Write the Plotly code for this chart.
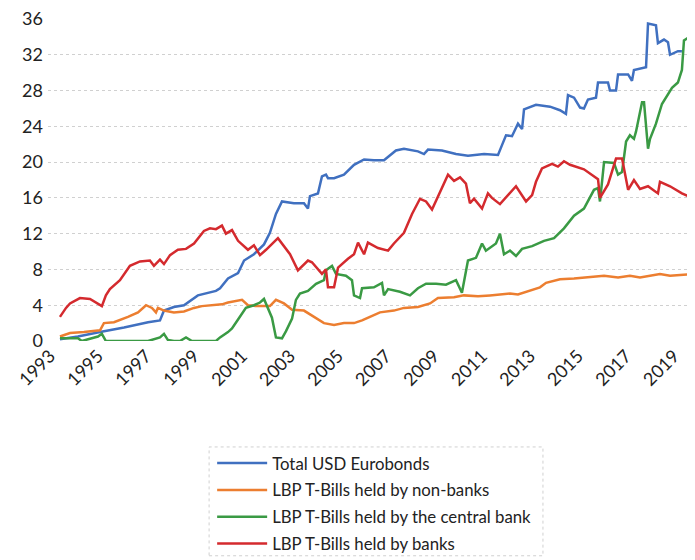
import plotly.graph_objects as go

# ---- data ----
eurobonds_dates = ["1993-06","1994-03","1995-02","1996-02","1997-02","1997-08","1997-10","1998-03","1998-08",
    "1999-03","1999-12","2000-02","2000-06","2000-11","2001-02","2001-07","2001-12","2002-03","2002-06","2002-09",
    "2003-03","2003-08","2003-10","2003-11","2004-03","2004-05","2004-07","2004-08","2004-11","2005-04","2005-09",
    "2006-02","2006-07","2006-12","2007-06","2007-10","2008-05","2008-08","2008-10","2009-05","2009-12","2010-06",
    "2011-02","2011-09","2011-11","2012-01","2012-04","2012-07","2012-09","2012-10","2013-04","2013-11","2014-04",
    "2014-07","2014-08","2014-11","2015-02","2015-04","2015-06","2015-10","2015-11","2016-04","2016-05","2016-08",
    "2016-09","2017-02","2017-04","2017-05","2017-11","2017-12","2018-04","2018-05","2018-08","2018-10","2018-11",
    "2019-03","2019-05"]
eurobonds_vals = [0.2,0.5,1.0,1.5,2.1,2.3,3.4,3.8,4.0,
    5.1,5.6,5.9,7.0,7.6,9.0,9.7,10.8,12.1,14.2,15.6,
    15.4,15.4,14.8,16.2,16.5,18.4,18.6,18.2,18.2,18.6,19.7,
    20.3,20.2,20.2,21.3,21.5,21.2,20.9,21.4,21.3,20.9,20.7,
    20.9,20.8,21.9,23.0,22.9,24.3,23.7,25.9,26.4,26.2,25.8,
    25.4,27.5,27.2,26.1,26.0,27.0,27.2,28.9,28.9,28.0,28.0,
    29.8,29.8,29.1,30.3,30.6,35.5,35.3,33.3,33.7,33.4,32.0,
    32.4,32.4]

nonbanks_dates = ["1993-06","1993-11","1994-06","1995-02","1995-04","1995-09","1996-04","1996-09","1997-01",
    "1997-04","1997-06","1997-07","1997-10","1998-03","1998-08","1999-01","1999-05","1999-10","2000-03","2000-06",
    "2001-01","2001-04","2001-08","2002-03","2002-06","2002-10","2003-02","2003-08","2004-01","2004-06","2004-11",
    "2005-04","2005-09","2006-01","2006-05","2006-10","2007-05","2007-10","2008-05","2008-11","2009-03","2009-11",
    "2010-04","2010-11","2011-05","2012-03","2012-07","2012-12","2013-06","2013-09","2014-04","2014-11","2015-09",
    "2016-02","2016-09","2017-03","2017-08","2018-01","2018-06","2018-11","2019-06","2019-11"]
nonbanks_vals = [0.5,0.9,1.0,1.2,2.0,2.1,2.7,3.2,4.0,
    3.7,3.2,3.7,3.4,3.2,3.3,3.7,3.9,4.0,4.1,4.3,
    4.6,4.0,3.9,3.9,4.6,4.2,3.5,3.4,2.7,2.0,1.8,
    2.0,2.0,2.3,2.7,3.2,3.4,3.7,3.8,4.2,4.8,4.9,
    5.1,5.0,5.1,5.3,5.2,5.6,6.0,6.5,6.9,7.0,7.2,
    7.3,7.1,7.3,7.1,7.3,7.5,7.3,7.4,7.5]

central_dates = ["1993-06","1994-03","1994-05","1995-01","1995-03","1995-05","1997-02","1997-08","1997-10",
    "1997-12","1998-03","1998-06","1998-09","1998-12","1999-12","2000-02","2000-06","2000-08","2000-11","2001-03",
    "2001-07","2001-10","2001-12","2002-02","2002-04","2002-06","2002-09","2002-11","2003-02","2003-04","2003-06",
    "2003-10","2004-02","2004-06","2004-07","2004-10","2004-12","2005-05","2005-08","2005-09","2005-12","2006-01",
    "2006-07","2006-11","2006-12","2007-02","2007-08","2008-01","2008-05","2008-09","2009-02","2009-07","2009-12",
    "2010-03","2010-06","2010-10","2011-01","2011-03","2011-08","2011-10","2011-12","2012-03","2012-06","2012-09",
    "2013-02","2013-08","2014-01","2014-06","2014-11","2015-04","2015-09","2015-11","2015-12","2016-01","2016-02",
    "2016-07","2016-09","2016-11","2017-01","2017-03","2017-05","2017-06","2017-09","2017-10","2017-12","2018-01",
    "2018-04","2018-07","2018-10","2018-12","2019-03","2019-05","2019-06","2019-08","2019-11"]
central_vals = [0.3,0.3,0.0,0.5,0.8,0.0,0.0,0.4,0.8,
    0.1,0.0,0.0,0.4,0.0,0.0,0.4,1.0,1.4,2.4,3.7,
    4.0,4.3,4.7,3.7,2.6,0.4,0.3,1.1,2.5,4.6,5.3,
    5.6,6.4,6.8,7.9,8.4,7.5,7.3,6.8,5.1,4.8,5.9,
    6.0,6.5,5.1,5.8,5.5,5.1,5.9,6.4,6.4,6.3,6.8,
    5.4,9.0,9.3,10.9,10.1,10.9,12.0,9.7,10.1,9.5,10.3,
    10.6,11.2,11.5,12.6,14.0,14.8,16.9,17.1,15.6,17.8,20.0,
    19.9,18.6,18.9,22.3,23.0,22.6,23.4,26.7,26.7,21.5,22.6,
    24.3,26.5,27.5,28.3,28.9,30.3,33.6,33.9,34.7]

banks_dates = ["1993-06","1993-09","1993-11","1994-04","1994-09","1995-03","1995-05","1995-07","1995-12",
    "1996-05","1996-10","1997-03","1997-05","1997-08","1997-10","1998-01","1998-05","1998-09","1999-01","1999-06",
    "1999-09","1999-12","2000-03","2000-05","2000-08","2000-11","2001-04","2001-07","2001-10","2002-01","2002-07",
    "2002-09","2003-01","2003-05","2003-10","2003-12","2004-05","2004-07","2004-08","2004-11","2005-01","2005-06",
    "2005-09","2005-11","2006-02","2006-04","2006-09","2007-02","2007-05","2007-10","2008-02","2008-06","2008-09",
    "2008-12","2009-04","2009-08","2009-11","2010-02","2010-05","2010-07","2010-09","2010-11","2011-01","2011-04",
    "2011-06","2011-10","2012-06","2012-11","2013-02","2013-04","2013-07","2013-12","2014-03","2014-06","2014-09",
    "2015-04","2015-07","2015-11","2015-12","2016-02","2016-04","2016-08","2016-11","2017-02","2017-05","2017-08",
    "2017-12","2018-05","2018-06","2018-11","2019-05","2019-11"]
banks_vals = [2.7,3.7,4.2,4.8,4.7,3.9,5.1,5.8,6.8,
    8.4,8.9,9.0,8.4,9.1,8.6,9.6,10.2,10.3,10.9,12.3,
    12.6,12.5,12.9,12.0,12.4,11.2,10.2,10.7,9.6,10.2,11.5,
    10.9,9.7,7.9,9.0,8.8,7.5,8.0,6.0,6.0,8.2,9.2,
    9.7,11.0,9.7,11.0,10.4,10.1,10.9,12.1,14.2,15.9,15.6,
    14.7,16.7,18.6,17.9,18.3,17.6,15.4,15.9,15.3,14.8,16.5,
    16.0,15.3,17.3,15.6,16.3,17.8,19.3,19.8,19.5,20.1,19.7,
    19.2,18.7,18.1,16.0,16.8,17.5,20.4,20.4,16.9,18.0,17.0,
    17.3,16.5,17.8,17.3,16.5,15.9]

series = [
    ("Total USD Eurobonds", eurobonds_dates, eurobonds_vals, "#4070c0"),
    ("LBP T-Bills held by non-banks", nonbanks_dates, nonbanks_vals, "#ec7e30"),
    ("LBP T-Bills held by the central bank", central_dates, central_vals, "#3a9a44"),
    ("LBP T-Bills held by banks", banks_dates, banks_vals, "#d42a2e"),
]

y_ticks = list(range(0, 37, 4))
grid_ticks = list(range(0, 33, 4))

fig = go.Figure()
for i, (name, d, v, c) in enumerate(series):
    fig.add_trace(go.Scatter(x=d, y=v, mode="lines", name=name, legendgroup=f"g{i}",
                             line=dict(color=c, width=2.5)))

# invisible trace on a second y-axis to carry the dotted gridlines
fig.add_trace(go.Scatter(x=[eurobonds_dates[0]], y=[0], yaxis="y2", showlegend=False,
                         mode="markers", marker=dict(opacity=0), hoverinfo="skip"))

font = "Lato, 'Open Sans', sans-serif"
fig.update_layout(
    width=695, height=560,
    margin=dict(l=40, r=8, t=11, b=227, autoexpand=False),
    paper_bgcolor="white", plot_bgcolor="white",
    font=dict(family=font, size=16, color="#222222"),
    showlegend=True,
    legend=dict(x=0.2537, y=-0.325, xanchor="left", yanchor="top",
                bgcolor="rgba(0,0,0,0)", borderwidth=0,
                font=dict(family=font, size=16.8, color="#222222"),
                tracegroupgap=2, itemwidth=50),
    xaxis=dict(type="date", range=["1992-12-01", "2019-11-16"], automargin=False,
               tick0="1993-01-01", dtick="M24", tickformat="%Y", tickangle=-45,
               showgrid=False, zeroline=False, showline=False, ticks="",
               ticklabeloverflow="allow",
               tickfont=dict(family=font, size=18, color="#222222")),
    yaxis=dict(range=[0, 36], tickvals=y_ticks, showgrid=False, zeroline=False, automargin=False,
               showline=False, ticks="", ticklabelstandoff=4, ticklabeloverflow="allow",
               tickfont=dict(family=font, size=18, color="#222222")),
    yaxis2=dict(range=[0, 36], overlaying="y", tickvals=grid_ticks, showticklabels=False,
                showgrid=True, gridcolor="#d0d0d0", griddash="dot", gridwidth=1, automargin=False,
                zeroline=False, showline=False, ticks="", layer="below traces"),
    shapes=[dict(type="rect", xref="paper", yref="paper",
                 x0=0.249, x1=0.765, y0=-0.667, y1=-0.329,
                 line=dict(color="#d0d0d0", width=1, dash="dot"), fillcolor="rgba(0,0,0,0)")],
)

fig.write_html("out.html")
